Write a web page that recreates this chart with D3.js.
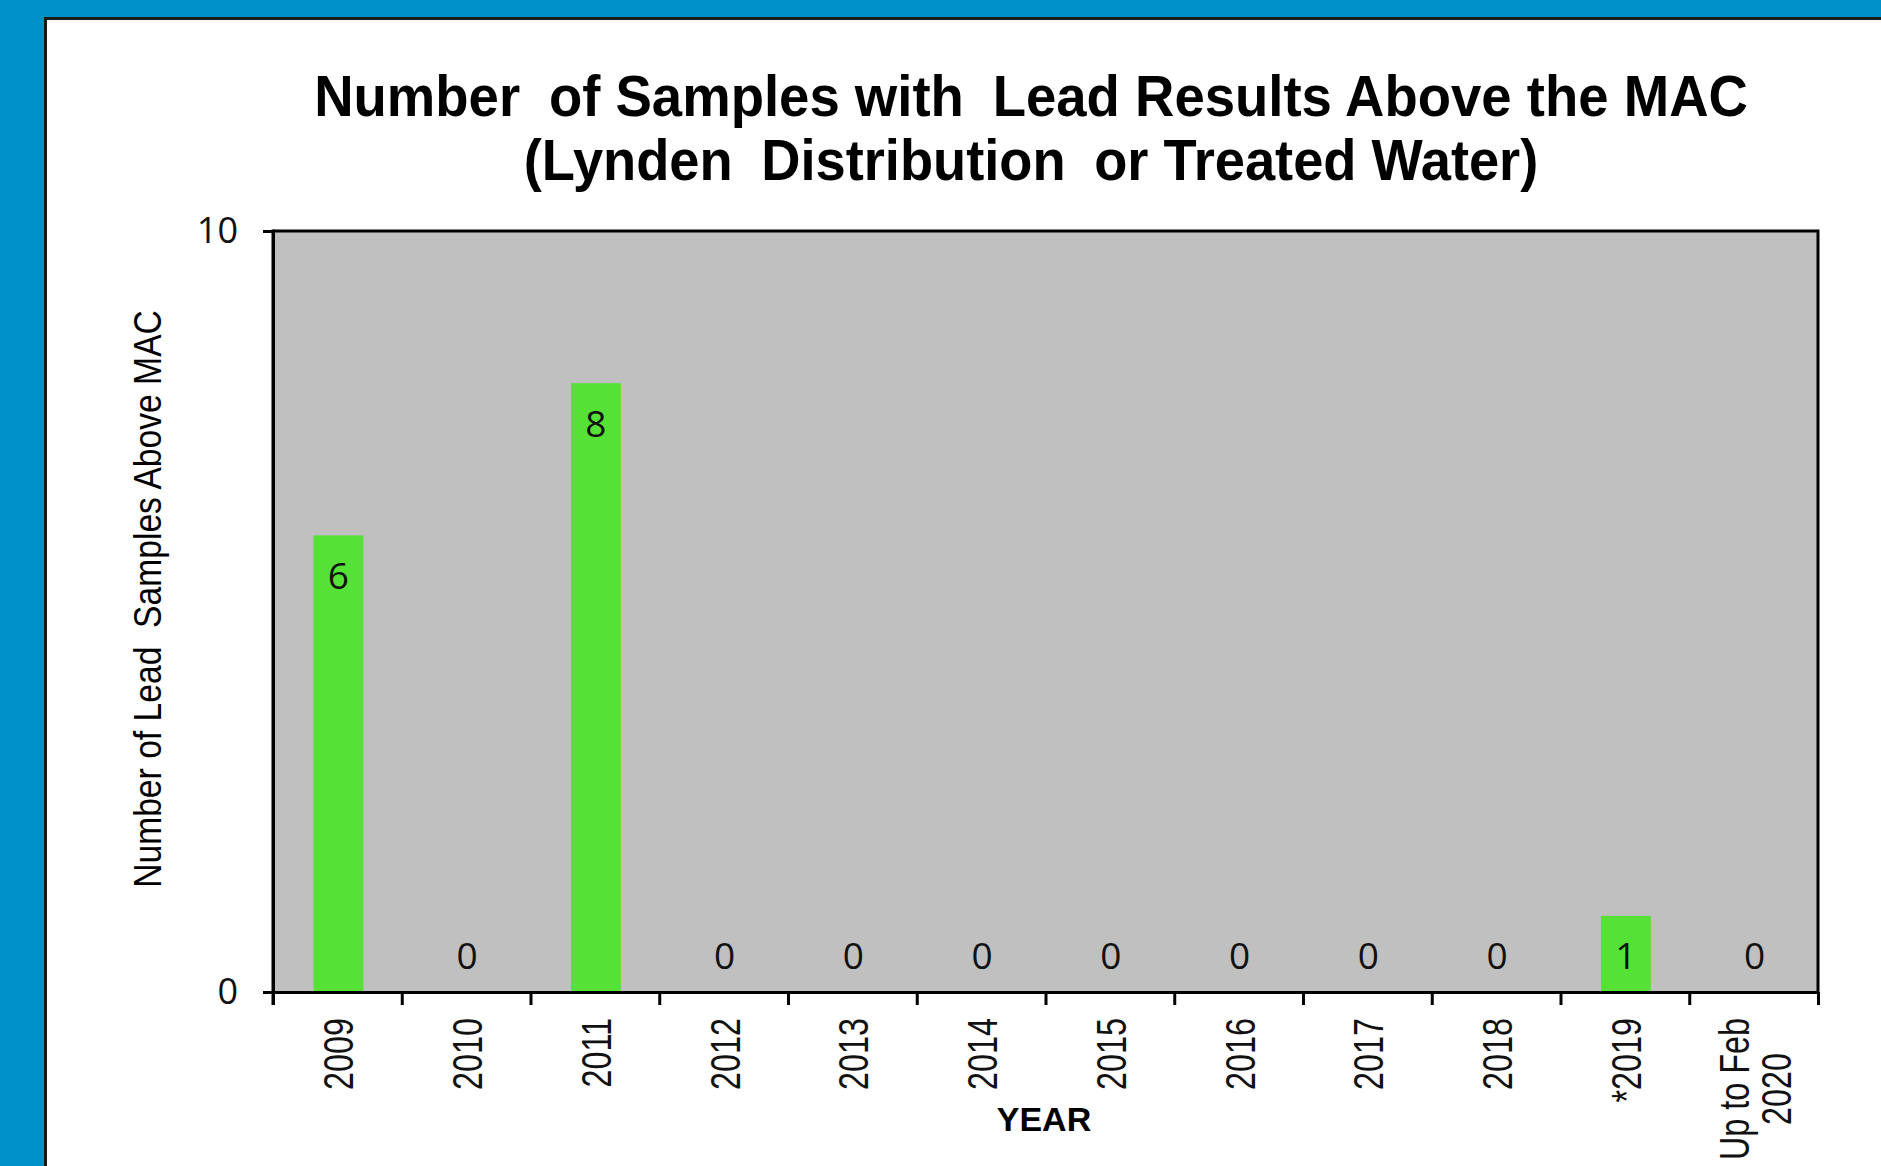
<!DOCTYPE html>
<html>
<head>
<meta charset="utf-8">
<title>Lead results above MAC</title>
<script src="https://cdn.jsdelivr.net/npm/d3@7"></script>
<style>
  html, body { margin: 0; padding: 0; background: #0091c9; overflow: hidden; }
  svg { display: block; }
</style>
</head>
<body>
<svg id="chart" width="1881" height="1166"></svg>
<script>
// data
var years = ["2009", "2010", "2011", "2012", "2013", "2014", "2015", "2016", "2017", "2018", "*2019", "Up to Feb\n2020"];
var samples = [6, 0, 8, 0, 0, 0, 0, 0, 0, 0, 1, 0];
var yTicks = [0, 10];
var titleLines = ["Number \u2005of Samples with \u2005Lead Results Above the MAC", "(Lynden \u2005Distribution \u2005or Treated Water)"];
var yTitle = "Number of Lead  Samples Above MAC";
var xTitle = "YEAR";

var W = 1881, H = 1166;
var plot = {left: 273, right: 1818, top: 231, bottom: 992};
var narrow = "'Liberation Sans', Arial, sans-serif";

var svg = d3.select("#chart");

// white panel on blue background
svg.append("rect")
  .attr("x", 45.5).attr("y", 18.5)
  .attr("width", W).attr("height", H)
  .attr("fill", "#fff").attr("stroke", "#1a1a1a").attr("stroke-width", 3);

var x = d3.scaleBand()
  .domain(years)
  .range([plot.left, plot.right])
  .paddingInner(0.612).paddingOuter(0.306);

var xEdge = d3.scaleLinear().domain([0, years.length]).range([plot.left, plot.right]);

var y = d3.scaleLinear().domain([0, 10]).range([plot.bottom, plot.top]);

// plot background
svg.append("rect")
  .attr("x", plot.left).attr("y", plot.top)
  .attr("width", plot.right - plot.left).attr("height", plot.bottom - plot.top)
  .attr("fill", "#c0c0c0");

// bars
svg.append("g").selectAll("rect")
  .data(samples)
  .enter().append("rect")
  .attr("x", function(d, i) { return x(years[i]) + 1; })
  .attr("width", x.bandwidth())
  .attr("y", function(d) { return y(d); })
  .attr("height", function(d) { return y(0) - y(d); })
  .attr("fill", "#55e135");

// frame lines (top + right)
svg.append("path")
  .attr("d", "M" + plot.left + "," + plot.top + "H" + plot.right + "V" + plot.bottom)
  .attr("fill", "none").attr("stroke", "#000").attr("stroke-width", 3);

// y axis
var yAxis = svg.append("g")
  .attr("transform", "translate(" + plot.left + ",0)")
  .call(d3.axisLeft(y).tickValues(yTicks).tickSize(10).tickSizeOuter(0).tickPadding(25));
yAxis.select(".domain").attr("stroke-width", 3);
yAxis.selectAll(".tick line").attr("stroke-width", 3);
yAxis.selectAll(".tick text")
  .attr("font-family", "'Open Sans', sans-serif")
  .attr("font-size", 36).attr("fill", "#111");

// x axis: ticks at category edges
var xAxis = svg.append("g")
  .attr("transform", "translate(0," + plot.bottom + ")")
  .call(d3.axisBottom(xEdge).tickValues(d3.range(years.length + 1)).tickFormat("").tickSize(13).tickSizeOuter(0));
xAxis.select(".domain").attr("stroke-width", 3);
xAxis.selectAll(".tick line").attr("stroke-width", 3);

// the left border continues down to the tick length
svg.append("line")
  .attr("x1", plot.left).attr("x2", plot.left)
  .attr("y1", plot.top - 1.5).attr("y2", plot.bottom + 13)
  .attr("stroke", "#000").attr("stroke-width", 3);

// category labels, rotated
var labelTop = 1018;
var lab = svg.append("g").selectAll("g")
  .data(years)
  .enter().append("g")
  .attr("transform", function(d) {
    return "translate(" + (x(d) + x.bandwidth() / 2 + 1) + "," + labelTop + ") rotate(-90)";
  });
var labText = lab.append("text")
  .attr("font-family", narrow)
  .attr("font-size", 43)
  .attr("fill", "#111");
labText.each(function(d) {
  var lines = d.split("\n");
  var t = d3.select(this);
  lines.forEach(function(s, j) {
    t.append("tspan")
      .attr("y", (j - (lines.length - 1) / 2) * 42)
      .attr("dy", "0.35em")
      .text(s);
  });
});
// squeeze to narrow width: "2009" is about 72px long in the reference
var probe = labText.filter(function(d) { return d === "2009"; }).node();
var sx = 72 / probe.getComputedTextLength();
labText.each(function(d) {
  var t = d3.select(this);
  var spans = t.selectAll("tspan");
  var maxLen = 0;
  spans.each(function() { maxLen = Math.max(maxLen, this.getComputedTextLength()); });
  spans.attr("x", -maxLen / 2).attr("text-anchor", "middle");
  t.attr("transform", "scale(" + sx + ",1)");
});

// value labels
svg.append("g").selectAll("text")
  .data(samples)
  .enter().append("text")
  .attr("x", function(d, i) { return x(years[i]) + x.bandwidth() / 2 + 1; })
  .attr("y", function(d) { return Math.min(y(d) + 40, y(0) - 36); })
  .attr("dy", "0.36em")
  .attr("text-anchor", "middle")
  .attr("font-family", "'Open Sans', sans-serif")
  .attr("font-size", 37)
  .attr("fill", "#111")
  .text(function(d) { return d; });

// title
var titleWidths = [1434, 1015];
var titleBase = [116, 180];
titleLines.forEach(function(s, i) {
  var g = svg.append("g").attr("transform", "translate(1031," + titleBase[i] + ")");
  var t = g.append("text")
    .attr("text-anchor", "middle")
    .attr("font-family", narrow)
    .attr("font-weight", "bold")
    .attr("font-size", 57)
    .style("white-space", "pre")
    .text(s);
  t.attr("transform", "scale(" + (titleWidths[i] / t.node().getComputedTextLength()) + ",1)");
});

// y axis title
var yg = svg.append("g").attr("transform", "translate(147,599) rotate(-90)");
var yt = yg.append("text")
  .attr("text-anchor", "middle")
  .attr("dy", "0.35em")
  .attr("font-family", narrow)
  .attr("font-size", 39)
  .style("white-space", "pre")
  .text(yTitle);
yt.attr("transform", "scale(" + (578 / yt.node().getComputedTextLength()) + ",1)");

// x axis title
svg.append("text")
  .attr("x", 1044).attr("y", 1131)
  .attr("text-anchor", "middle")
  .attr("font-family", "'Liberation Sans', Arial, sans-serif")
  .attr("font-weight", "bold")
  .attr("font-size", 34)
  .text(xTitle);
</script>
</body>
</html>
